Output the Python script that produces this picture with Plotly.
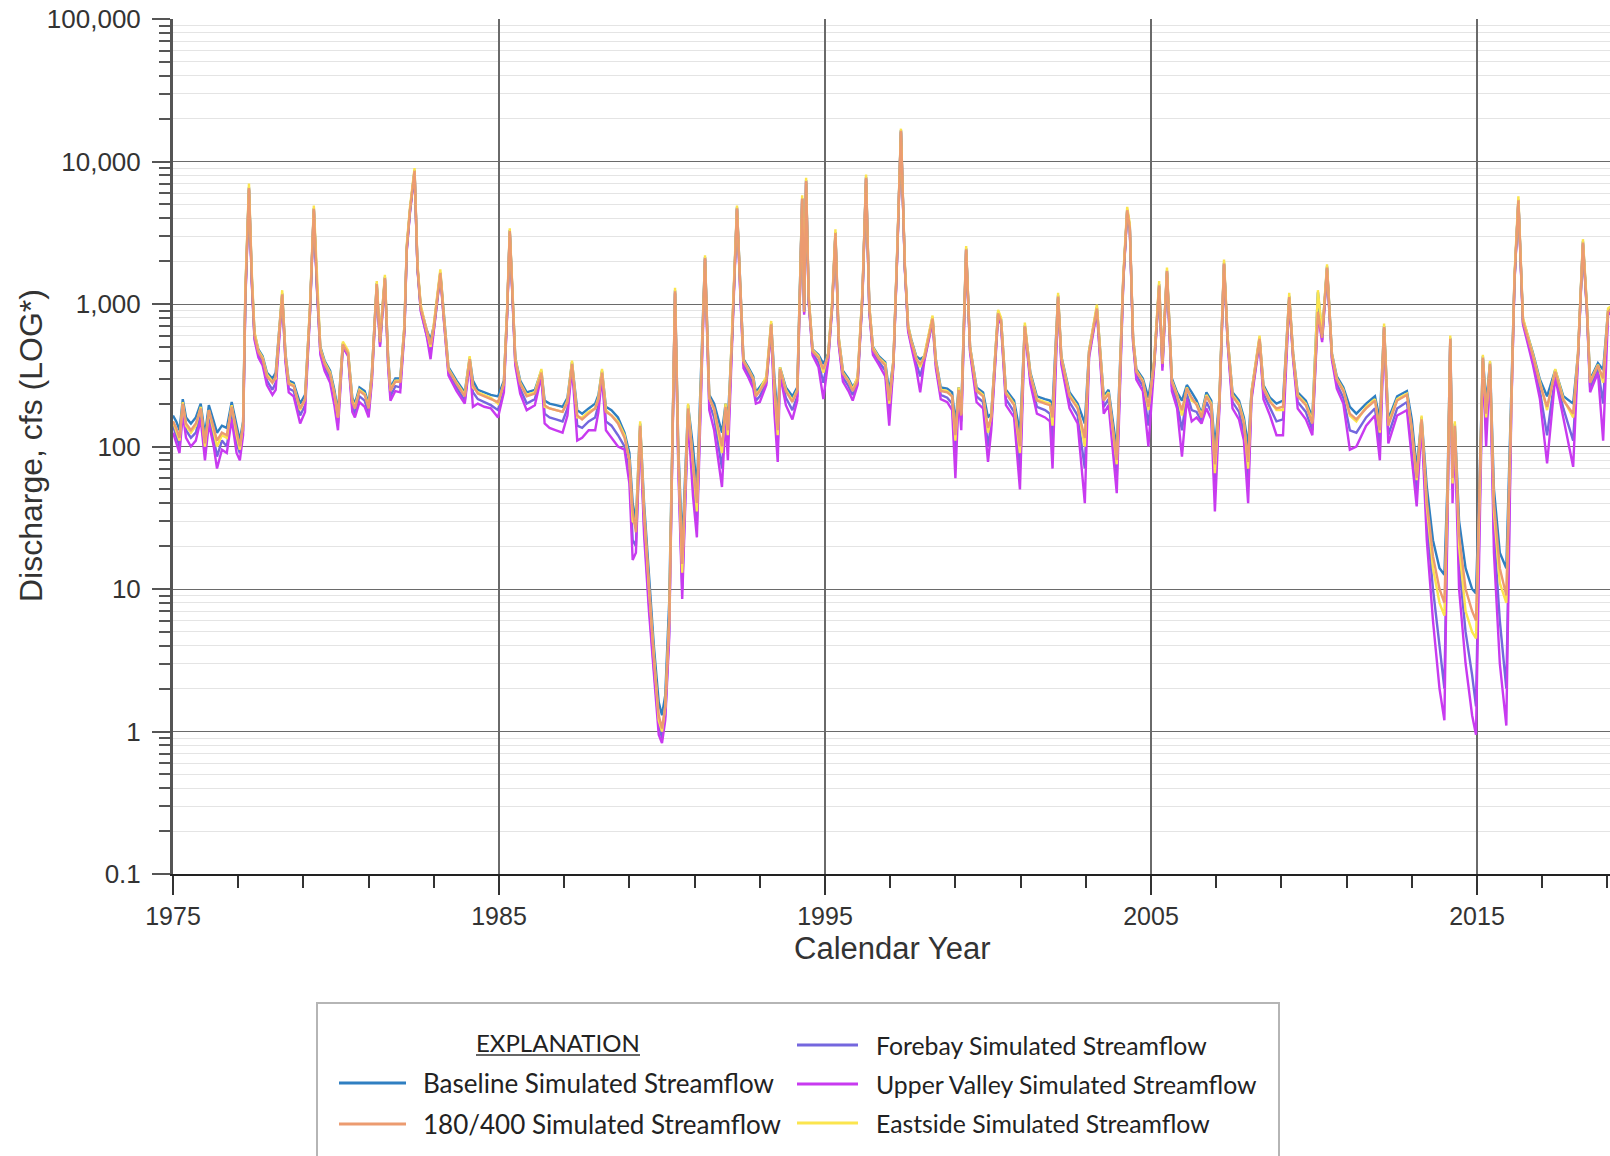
import plotly.graph_objects as go

# ---------------- data (decimal calendar year, discharge in cfs) ----------------
YEARS = (
    [1975.00, 1975.10, 1975.20, 1975.30, 1975.40, 1975.55, 1975.70, 1975.85, 1975.98]
    + [1976.10, 1976.25, 1976.35, 1976.50, 1976.65, 1976.80, 1976.95]
    + [1977.05, 1977.15, 1977.22, 1977.33, 1977.42, 1977.50, 1977.62, 1977.75, 1977.88]
    + [1978.05, 1978.15, 1978.35, 1978.45, 1978.55, 1978.70, 1978.90]
    + [1979.05, 1979.20, 1979.32, 1979.42, 1979.52, 1979.65, 1979.82, 1979.95]
    + [1980.06, 1980.21, 1980.37, 1980.50, 1980.58, 1980.72, 1980.88]
    + [1981.00, 1981.10, 1981.25, 1981.35, 1981.50, 1981.60, 1981.67, 1981.82, 1981.97]
    + [1982.10, 1982.17, 1982.27, 1982.41, 1982.50, 1982.60, 1982.78, 1982.90]
    + [1983.00, 1983.20, 1983.30, 1983.45, 1983.70, 1983.95]
    + [1984.10, 1984.20, 1984.35, 1984.55, 1984.75, 1984.97]
    + [1985.15, 1985.25, 1985.33, 1985.42, 1985.50, 1985.65, 1985.85]
    + [1986.10, 1986.30, 1986.40, 1986.55, 1986.75, 1986.95]
    + [1987.10, 1987.24, 1987.40, 1987.55, 1987.75, 1987.95]
    + [1988.05, 1988.16, 1988.28, 1988.45, 1988.65, 1988.85]
    + [1989.00, 1989.10, 1989.20, 1989.33, 1989.45, 1989.60, 1989.75, 1989.90]
    + [1990.00, 1990.10, 1990.22, 1990.33, 1990.40, 1990.50, 1990.62, 1990.80, 1990.95]
    + [1991.07, 1991.20, 1991.32, 1991.45, 1991.60, 1991.84, 1991.95]
    + [1992.02, 1992.15, 1992.30, 1992.40, 1992.50, 1992.65, 1992.80, 1992.88]
    + [1993.00, 1993.20, 1993.35, 1993.45, 1993.55, 1993.62, 1993.80]
    + [1994.00, 1994.15, 1994.24, 1994.30, 1994.36, 1994.42, 1994.50, 1994.62, 1994.80, 1994.95]
    + [1995.10, 1995.22, 1995.32, 1995.42, 1995.55, 1995.72, 1995.85]
    + [1996.00, 1996.15, 1996.26, 1996.36, 1996.47, 1996.65, 1996.85, 1996.97]
    + [1997.10, 1997.22, 1997.33, 1997.45, 1997.55, 1997.65, 1997.80, 1997.92]
    + [1998.05, 1998.30, 1998.40, 1998.55, 1998.75, 1998.90]
    + [1999.00, 1999.10, 1999.18, 1999.33, 1999.45, 1999.65, 1999.85]
    + [2000.00, 2000.10, 2000.31, 2000.40, 2000.55, 2000.80, 2000.98]
    + [2001.13, 2001.30, 2001.50, 2001.75, 2001.90, 2001.98]
    + [2002.15, 2002.25, 2002.50, 2002.75, 2002.97]
    + [2003.10, 2003.34, 2003.55, 2003.70, 2003.95]
    + [2004.15, 2004.27, 2004.35, 2004.45, 2004.55, 2004.75, 2004.92]
    + [2005.10, 2005.25, 2005.35, 2005.49, 2005.64, 2005.80, 2005.95]
    + [2006.10, 2006.25, 2006.40, 2006.55, 2006.70, 2006.85, 2006.96]
    + [2007.10, 2007.24, 2007.35, 2007.50, 2007.70, 2007.85, 2007.98]
    + [2008.08, 2008.33, 2008.45, 2008.65, 2008.85]
    + [2009.05, 2009.24, 2009.36, 2009.50, 2009.75, 2009.95]
    + [2010.12, 2010.25, 2010.40, 2010.55, 2010.70, 2010.90]
    + [2011.10, 2011.30, 2011.60, 2011.87]
    + [2012.02, 2012.15, 2012.28, 2012.55, 2012.85]
    + [2013.00, 2013.15, 2013.30, 2013.46, 2013.65, 2013.85]
    + [2014.00, 2014.10, 2014.18, 2014.25, 2014.32, 2014.45, 2014.65, 2014.85, 2014.97]
    + [2015.08, 2015.18, 2015.28, 2015.40, 2015.52, 2015.70, 2015.90]
    + [2016.05, 2016.15, 2016.27, 2016.41, 2016.72, 2016.93]
    + [2017.15, 2017.40, 2017.65, 2017.95]
    + [2018.10, 2018.25, 2018.37, 2018.47, 2018.71, 2018.87]
    + [2019.02, 2019.15]
)

BASELINE = (
    [165, 150, 130, 215, 160, 145, 160, 200, 120]
    + [195, 150, 125, 140, 135, 205, 140]
    + [110, 150, 1200, 6600, 1500, 620, 480, 430, 330]
    + [300, 330, 1190, 450, 290, 280, 200]
    + [230, 900, 4700, 1300, 500, 400, 340, 250]
    + [175, 530, 460, 220, 200, 260, 245]
    + [200, 330, 1400, 560, 1550, 420, 260, 300, 300]
    + [700, 2500, 4600, 8700, 1820, 950, 660, 560]
    + [700, 1670, 870, 360, 290, 240]
    + [420, 290, 250, 240, 230, 225]
    + [290, 900, 3300, 1100, 420, 290, 240]
    + [250, 340, 210, 200, 195, 190]
    + [220, 390, 180, 170, 185, 200]
    + [230, 340, 190, 180, 160, 125]
    + [90, 40, 30, 145, 40, 12, 4, 1.6]
    + [1.3, 1.8, 8, 150, 1250, 100, 20, 195, 100]
    + [50, 300, 2140, 230, 200, 125, 200]
    + [150, 600, 4770, 1300, 410, 360, 310, 240]
    + [260, 300, 735, 300, 160, 360, 260]
    + [225, 260, 1500, 5550, 900, 7400, 1100, 480, 440, 380]
    + [450, 1000, 3200, 580, 340, 300, 260]
    + [300, 1200, 7800, 950, 500, 430, 390, 240]
    + [400, 2500, 16600, 1820, 700, 560, 430, 410]
    + [430, 810, 410, 260, 255, 240]
    + [145, 260, 180, 2460, 500, 260, 240]
    + [160, 170, 880, 780, 250, 210, 125]
    + [710, 330, 225, 215, 210, 190]
    + [1150, 430, 240, 200, 145]
    + [470, 950, 225, 250, 95]
    + [1500, 4600, 3500, 580, 350, 300, 220]
    + [400, 1380, 395, 1720, 300, 240, 210]
    + [270, 240, 210, 170, 240, 210, 97]
    + [220, 1950, 580, 240, 210, 160, 100]
    + [240, 580, 270, 220, 200]
    + [210, 1140, 450, 240, 210, 160]
    + [1210, 600, 1840, 450, 310, 260]
    + [190, 170, 200, 225]
    + [155, 700, 155, 225, 245]
    + [155, 70, 160, 52, 22, 14]
    + [12.6, 60, 580, 70, 145, 30, 14, 10, 9.3]
    + [60, 430, 200, 390, 50, 18, 14]
    + [200, 1500, 5400, 780, 450, 295]
    + [225, 345, 225, 200]
    + [450, 2750, 960, 295, 385, 345]
    + [900, 950]
)

S180_400 = (
    [150, 135, 115, 200, 145, 130, 145, 185, 105]
    + [180, 135, 110, 125, 120, 190, 125]
    + [100, 140, 1150, 6500, 1450, 600, 460, 410, 310]
    + [280, 310, 1170, 430, 275, 265, 185]
    + [215, 880, 4650, 1280, 480, 380, 320, 235]
    + [160, 520, 450, 205, 185, 245, 230]
    + [185, 315, 1380, 540, 1520, 400, 245, 285, 285]
    + [680, 2450, 4550, 8600, 1800, 930, 640, 520]
    + [680, 1650, 850, 345, 275, 225]
    + [410, 270, 235, 225, 215, 205]
    + [275, 880, 3250, 1080, 405, 275, 225]
    + [235, 330, 195, 185, 180, 175]
    + [205, 380, 165, 155, 170, 185]
    + [215, 330, 175, 165, 145, 115]
    + [80, 35, 25, 140, 35, 10, 3.3, 1.3]
    + [1.05, 1.5, 6, 140, 1230, 90, 15, 185, 80]
    + [40, 290, 2100, 220, 185, 100, 190]
    + [130, 580, 4700, 1280, 395, 345, 295, 225]
    + [245, 290, 720, 270, 130, 350, 245]
    + [205, 245, 1480, 5500, 880, 7300, 1080, 465, 420, 350]
    + [435, 980, 3150, 560, 325, 285, 245]
    + [290, 1180, 7700, 930, 480, 415, 370, 210]
    + [390, 2450, 16400, 1800, 680, 540, 410, 380]
    + [420, 790, 395, 245, 240, 225]
    + [120, 250, 165, 2420, 485, 245, 225]
    + [135, 160, 860, 760, 235, 195, 100]
    + [700, 315, 210, 200, 195, 160]
    + [1130, 415, 225, 185, 115]
    + [455, 930, 210, 235, 80]
    + [1480, 4550, 3450, 565, 335, 285, 190]
    + [390, 1350, 380, 1700, 285, 225, 180]
    + [255, 220, 195, 160, 225, 195, 75]
    + [210, 1920, 565, 225, 195, 145, 78]
    + [230, 570, 255, 205, 185]
    + [190, 1120, 435, 225, 195, 145]
    + [880, 580, 1800, 435, 295, 245]
    + [170, 155, 185, 210]
    + [130, 690, 140, 210, 230]
    + [135, 60, 155, 42, 17, 10]
    + [8, 50, 570, 60, 140, 24, 10, 7, 6]
    + [50, 420, 170, 380, 40, 14, 9]
    + [190, 1480, 5350, 760, 430, 275]
    + [190, 335, 210, 170]
    + [440, 2700, 940, 280, 370, 300]
    + [880, 930]
)

FOREBAY = (
    [140, 120, 100, 185, 130, 115, 125, 170, 90]
    + [160, 115, 85, 110, 100, 170, 105]
    + [90, 130, 1100, 6400, 1400, 580, 440, 390, 290]
    + [250, 280, 1150, 410, 255, 245, 165]
    + [195, 860, 4600, 1250, 460, 360, 300, 215]
    + [145, 510, 440, 190, 170, 225, 210]
    + [170, 300, 1350, 520, 1500, 380, 225, 265, 260]
    + [660, 2400, 4500, 8500, 1780, 910, 620, 460]
    + [660, 1620, 830, 330, 260, 210]
    + [400, 240, 215, 205, 195, 180]
    + [260, 860, 3200, 1050, 390, 255, 200]
    + [215, 320, 170, 160, 155, 150]
    + [185, 370, 140, 135, 150, 160]
    + [195, 320, 150, 140, 120, 100]
    + [65, 22, 20, 135, 28, 8, 2.8, 1.1]
    + [0.9, 1.3, 5, 130, 1200, 80, 10, 170, 60]
    + [28, 280, 2080, 200, 160, 70, 175]
    + [100, 560, 4650, 1250, 375, 325, 275, 210]
    + [225, 280, 700, 220, 100, 335, 220]
    + [180, 225, 1450, 5450, 860, 7200, 1050, 450, 390, 280]
    + [420, 960, 3100, 540, 305, 265, 230]
    + [280, 1150, 7600, 900, 460, 395, 340, 170]
    + [380, 2400, 16200, 1780, 660, 520, 380, 310]
    + [410, 770, 375, 230, 220, 200]
    + [85, 240, 150, 2400, 470, 225, 205]
    + [100, 145, 840, 740, 215, 175, 70]
    + [690, 295, 190, 180, 170, 110]
    + [1110, 395, 205, 165, 70]
    + [440, 910, 190, 215, 60]
    + [1450, 4500, 3400, 550, 315, 265, 140]
    + [380, 1330, 360, 1680, 265, 205, 130]
    + [235, 180, 175, 150, 205, 175, 48]
    + [200, 1900, 550, 205, 175, 125, 52]
    + [220, 560, 235, 185, 150]
    + [155, 1100, 420, 205, 175, 130]
    + [900, 560, 1780, 420, 275, 220]
    + [130, 125, 160, 185]
    + [100, 680, 120, 185, 205]
    + [105, 48, 150, 30, 10, 4]
    + [2, 40, 560, 50, 130, 15, 5, 2.5, 1.5]
    + [35, 410, 130, 370, 25, 6, 2]
    + [180, 1450, 5300, 740, 400, 245]
    + [120, 320, 185, 110]
    + [430, 2650, 920, 260, 350, 200]
    + [860, 910]
)

UPPER_VALLEY = (
    [125, 105, 90, 170, 115, 100, 110, 155, 80]
    + [145, 100, 70, 95, 90, 155, 90]
    + [80, 120, 1050, 6300, 1350, 560, 420, 370, 270]
    + [230, 250, 1120, 390, 240, 225, 145]
    + [175, 840, 4500, 1200, 440, 340, 280, 195]
    + [130, 500, 430, 175, 160, 205, 190]
    + [160, 285, 1320, 500, 1480, 360, 210, 245, 240]
    + [640, 2350, 4400, 8400, 1750, 890, 600, 410]
    + [640, 1600, 810, 315, 245, 200]
    + [390, 190, 200, 190, 185, 160]
    + [240, 840, 3150, 1000, 370, 235, 180]
    + [195, 310, 145, 135, 130, 125]
    + [165, 360, 110, 115, 130, 130]
    + [175, 310, 130, 115, 100, 95]
    + [55, 16, 18, 130, 24, 7, 2.5, 0.95]
    + [0.83, 1.2, 4.5, 120, 1180, 70, 8.5, 160, 45]
    + [23, 270, 2050, 180, 130, 52, 160]
    + [80, 540, 4600, 1200, 355, 305, 255, 200]
    + [205, 270, 680, 170, 78, 320, 195]
    + [155, 210, 1420, 5400, 840, 7100, 1020, 435, 360, 215]
    + [400, 940, 3050, 520, 285, 245, 210]
    + [270, 1120, 7500, 880, 440, 375, 310, 140]
    + [370, 2350, 16000, 1750, 640, 500, 350, 240]
    + [400, 750, 355, 215, 205, 180]
    + [60, 230, 130, 2380, 455, 205, 185]
    + [78, 130, 820, 720, 195, 160, 50]
    + [680, 275, 170, 160, 150, 70]
    + [1090, 375, 185, 145, 40]
    + [420, 890, 170, 195, 47]
    + [1420, 4450, 3350, 535, 295, 245, 100]
    + [370, 1300, 340, 1650, 245, 185, 85]
    + [215, 150, 160, 145, 185, 155, 35]
    + [190, 1880, 535, 185, 155, 110, 40]
    + [210, 550, 215, 165, 120]
    + [120, 1080, 405, 185, 155, 120]
    + [850, 540, 1750, 405, 255, 200]
    + [95, 100, 140, 165]
    + [80, 670, 105, 165, 180]
    + [85, 38, 145, 22, 6, 2]
    + [1.2, 35, 550, 40, 120, 10, 3, 1.3, 0.95]
    + [25, 400, 100, 360, 18, 3, 1.1]
    + [170, 1420, 5250, 720, 370, 215]
    + [76, 305, 160, 72]
    + [420, 2600, 900, 240, 330, 110]
    + [840, 890]
)

EASTSIDE = (
    [150, 130, 110, 205, 140, 125, 140, 190, 100]
    + [180, 130, 100, 120, 115, 195, 120]
    + [95, 145, 1300, 7000, 1600, 640, 470, 420, 320]
    + [285, 300, 1250, 440, 280, 270, 180]
    + [215, 950, 4900, 1350, 490, 390, 330, 235]
    + [160, 545, 470, 210, 190, 250, 235]
    + [190, 320, 1450, 570, 1600, 410, 250, 290, 290]
    + [720, 2600, 4800, 9000, 1900, 980, 650, 500]
    + [720, 1750, 880, 350, 280, 230]
    + [430, 260, 240, 230, 220, 200]
    + [280, 950, 3400, 1150, 415, 280, 230]
    + [240, 350, 190, 185, 180, 175]
    + [210, 400, 160, 160, 175, 185]
    + [220, 350, 180, 165, 150, 120]
    + [80, 30, 28, 150, 35, 10, 3.2, 1.2]
    + [1.0, 1.5, 6, 145, 1300, 90, 13, 200, 75]
    + [35, 310, 2200, 220, 180, 90, 200]
    + [120, 620, 4900, 1350, 400, 350, 300, 230]
    + [250, 310, 760, 250, 120, 360, 250]
    + [210, 250, 1600, 5800, 950, 7700, 1150, 475, 430, 330]
    + [450, 1050, 3350, 590, 330, 290, 250]
    + [310, 1250, 8100, 980, 495, 420, 380, 200]
    + [410, 2600, 17000, 1900, 710, 550, 420, 360]
    + [440, 830, 400, 250, 245, 225]
    + [110, 260, 170, 2550, 500, 250, 230]
    + [125, 165, 910, 800, 240, 200, 90]
    + [740, 320, 215, 205, 200, 140]
    + [1200, 425, 230, 190, 100]
    + [470, 990, 215, 240, 75]
    + [1600, 4800, 3650, 590, 340, 290, 180]
    + [410, 1450, 390, 1800, 290, 230, 165]
    + [260, 210, 200, 165, 230, 200, 65]
    + [220, 2050, 590, 230, 200, 150, 70]
    + [240, 600, 260, 210, 180]
    + [180, 1200, 445, 230, 200, 150]
    + [1250, 620, 1900, 445, 300, 250]
    + [165, 150, 190, 215]
    + [125, 730, 145, 215, 235]
    + [130, 58, 165, 38, 14, 8]
    + [6.5, 50, 600, 55, 150, 20, 7, 5, 4.5]
    + [45, 440, 160, 400, 35, 11, 8]
    + [210, 1600, 5700, 800, 440, 285]
    + [180, 350, 215, 160]
    + [460, 2850, 1000, 285, 375, 280]
    + [930, 980]
)

SERIES_NAMES = [
    "Baseline Simulated Streamflow",
    "180/400 Simulated Streamflow",
    "Forebay Simulated Streamflow",
    "Upper Valley Simulated Streamflow",
    "Eastside Simulated Streamflow",
]
Y_TICK_VALUES = [0.1, 1, 10, 100, 1000, 10000, 100000]
Y_TICK_LABELS = ["0.1", "1", "10", "100", "1,000", "10,000", "100,000"]
X_TICK_VALUES = [1975, 1985, 1995, 2005, 2015]
X_TICK_LABELS = ["1975", "1985", "1995", "2005", "2015"]

for arr in (BASELINE, S180_400, FOREBAY, UPPER_VALLEY, EASTSIDE):
    assert len(arr) == len(YEARS), (len(arr), len(YEARS))

# ---------------- styling ----------------
COLORS = {
    "Baseline Simulated Streamflow": "#2f7fc1",
    "180/400 Simulated Streamflow": "#ec9b70",
    "Forebay Simulated Streamflow": "#7467de",
    "Upper Valley Simulated Streamflow": "#c83af0",
    "Eastside Simulated Streamflow": "#fbe54e",
}
VALUES = dict(zip(SERIES_NAMES, [BASELINE, S180_400, FOREBAY, UPPER_VALLEY, EASTSIDE]))
DRAW_ORDER = [
    "Forebay Simulated Streamflow",
    "Upper Valley Simulated Streamflow",
    "Baseline Simulated Streamflow",
    "Eastside Simulated Streamflow",
    "180/400 Simulated Streamflow",
]

W, H = 1610, 1156
PL, PR, PT, PB = 173, 1610, 19, 874  # plot area in pixels


def px(x):
    return (x - PL) / (PR - PL)


def py(y):
    return (PB - y) / (PB - PT)


fig = go.Figure()
for name in DRAW_ORDER:
    fig.add_trace(go.Scatter(
        x=YEARS, y=VALUES[name], mode="lines", name=name,
        line=dict(color=COLORS[name], width=2.4), showlegend=False,
    ))

minor_y = [m * 10 ** k for k in range(-1, 5) for m in range(2, 10)]
minor_x = [y for y in range(1977, 2020, 2) if y not in X_TICK_VALUES]

AXFONT = dict(family="Liberation Sans, Arial, sans-serif", size=26, color="#333333")
XTICKFONT = dict(family="Liberation Sans, Arial, sans-serif", size=25, color="#333333")
TITLEFONT = dict(family="Liberation Sans, Arial, sans-serif", size=32, color="#333333")
XTITLEFONT = dict(family="Liberation Sans, Arial, sans-serif", size=31, color="#333333")

fig.update_layout(
    width=W, height=H,
    margin=dict(l=PL, r=W - PR, t=PT, b=H - PB),
    paper_bgcolor="white", plot_bgcolor="white",
    showlegend=False,
    xaxis=dict(
        range=[1975, 2019.08], tickmode="array", tickvals=X_TICK_VALUES, ticktext=X_TICK_LABELS,
        ticks="outside", ticklen=19, tickwidth=2, tickcolor="#333333",
        ticklabelstandoff=0,
        showgrid=True, gridcolor="#6a6a6a", gridwidth=1.5,
        showline=True, linecolor="#222222", linewidth=2, zeroline=False,
        tickfont=XTICKFONT,
        minor=dict(tickmode="array", tickvals=minor_x, ticks="outside", ticklen=12,
                   tickwidth=2, tickcolor="#333333", showgrid=False),
    ),
    yaxis=dict(
        type="log", range=[-1, 5], tickmode="array", tickvals=Y_TICK_VALUES, ticktext=Y_TICK_LABELS,
        ticks="outside", ticklen=18, tickwidth=2, tickcolor="#555555",
        ticklabelstandoff=6,
        showgrid=True, gridcolor="#6a6a6a", gridwidth=1.3,
        showline=True, linecolor="#555555", linewidth=3, zeroline=False,
        tickfont=AXFONT,
        minor=dict(tickmode="array", tickvals=minor_y, ticks="outside", ticklen=11,
                   tickwidth=2, tickcolor="#555555", showgrid=True, gridcolor="#e4e4e4", gridwidth=1),
    ),
)

# ---------------- axis titles ----------------
annotations = [
    dict(text="Calendar Year", xref="paper", yref="paper", x=px(892), y=py(948),
         xanchor="center", yanchor="middle", showarrow=False, font=XTITLEFONT),
    dict(text="Discharge, cfs (LOG*)", xref="paper", yref="paper", x=px(31), y=py(446),
         xanchor="center", yanchor="middle", showarrow=False, textangle=-90, font=TITLEFONT),
]

# ---------------- explanation box (custom legend) ----------------
HEADFONT = dict(family="Lato, Open Sans, sans-serif", size=24, color="#222222")
LEGFONT_L = dict(family="Lato, Open Sans, sans-serif", size=26, color="#222222")
LEGFONT_R = dict(family="Lato, Open Sans, sans-serif", size=24.8, color="#222222")
shapes = [
    dict(type="rect", xref="paper", yref="paper", x0=px(317), x1=px(1279), y0=py(1180), y1=py(1003),
         line=dict(color="#b5b5b5", width=2), fillcolor="rgba(0,0,0,0)", layer="above"),
    dict(type="line", xref="paper", yref="paper", x0=px(476), x1=px(640), y0=py(1055), y1=py(1055),
         line=dict(color="#333333", width=1.5)),
]
annotations.append(dict(text="EXPLANATION", xref="paper", yref="paper", x=px(558), y=py(1042),
                        xanchor="center", yanchor="middle", showarrow=False, font=HEADFONT))
legend_slots = {
    "Baseline Simulated Streamflow": (339, 406, 421, 1083, LEGFONT_L),
    "180/400 Simulated Streamflow": (339, 406, 421, 1124, LEGFONT_L),
    "Forebay Simulated Streamflow": (797, 858, 874, 1045, LEGFONT_R),
    "Upper Valley Simulated Streamflow": (797, 858, 874, 1084, LEGFONT_R),
    "Eastside Simulated Streamflow": (797, 858, 874, 1123, LEGFONT_R),
}
for name in SERIES_NAMES:
    x0, x1, xt, yy, fnt = legend_slots[name]
    shapes.append(dict(type="line", xref="paper", yref="paper", x0=px(x0), x1=px(x1),
                       y0=py(yy), y1=py(yy), line=dict(color=COLORS[name], width=3)))
    annotations.append(dict(text=name, xref="paper", yref="paper", x=px(xt), y=py(yy),
                            xanchor="left", yanchor="middle", showarrow=False, font=fnt))

fig.update_layout(shapes=shapes, annotations=annotations)

fig.write_html("out.html")
